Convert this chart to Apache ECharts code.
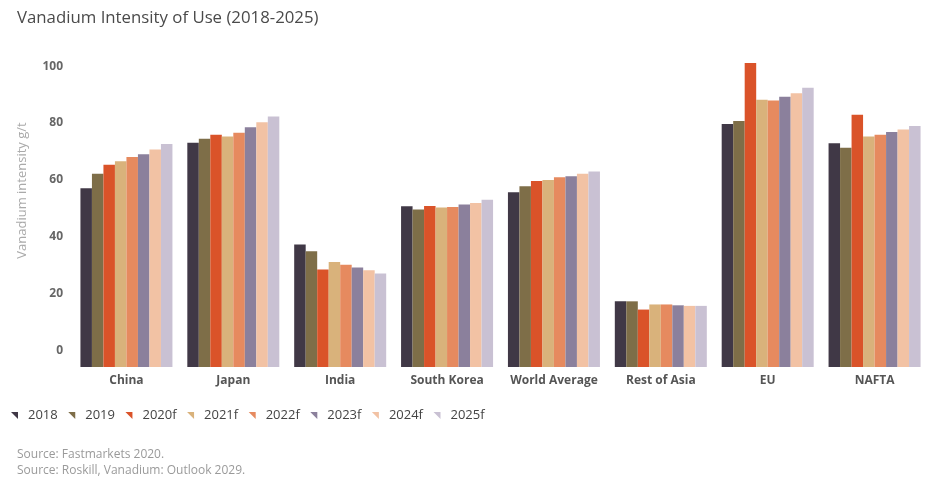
<!DOCTYPE html>
<html>
<head>
<meta charset="utf-8">
<script src="https://cdn.jsdelivr.net/npm/echarts@6/dist/echarts.min.js"></script>
<style>html,body{margin:0;padding:0;background:#fff}#c{width:928px;height:478px}</style>
</head>
<body>
<div id="c"></div>
<script>
var categories = ['China', 'Japan', 'India', 'South Korea', 'World Average', 'Rest of Asia', 'EU', 'NAFTA'];
var seriesNames = ['2018', '2019', '2020f', '2021f', '2022f', '2023f', '2024f', '2025f'];
var colors = ['#403846', '#7e6e48', '#da5329', '#d9b27b', '#e68a5f', '#8b809c', '#f2c2a4', '#c9c1d3'];
var v2018  = [57.1, 73.1, 37.3, 50.7, 55.7, 17.3, 79.7, 72.9];
var v2019  = [62.2, 74.5, 34.9, 49.6, 57.8, 17.3, 80.7, 71.3];
var v2020f = [65.3, 75.9, 28.5, 50.8, 59.6, 14.4, 101.1, 82.9];
var v2021f = [66.6, 75.3, 31.1, 50.3, 60.0, 16.2, 88.2, 75.3];
var v2022f = [68.1, 76.6, 30.2, 50.5, 60.9, 16.2, 87.9, 75.9];
var v2023f = [69.0, 78.5, 29.2, 51.4, 61.3, 15.9, 89.3, 76.9];
var v2024f = [70.7, 80.3, 28.2, 51.9, 62.2, 15.7, 90.5, 77.7];
var v2025f = [72.6, 82.3, 27.1, 53.0, 63.0, 15.7, 92.4, 79.0];
var yTicks = [0, 20, 40, 60, 80, 100];
var allValues = [v2018, v2019, v2020f, v2021f, v2022f, v2023f, v2024f, v2025f];

var chart = echarts.init(document.getElementById('c'));
var FONT = '"Open Sans", "DejaVu Sans", sans-serif';
var series = seriesNames.map(function (n, i) {
  return {
    name: n, type: 'bar', data: allValues[i],
    barWidth: 11.5, barGap: 0,
    itemStyle: { color: colors[i] },
    emphasis: { disabled: true }
  };
});
chart.setOption({
  animation: false,
  textStyle: { fontFamily: FONT },
  title: [
    { text: 'Vanadium Intensity of Use (2018-2025)', left: 12, top: 5,
      textStyle: { fontSize: 16.8, fontWeight: 'normal', color: '#4a4a4a', fontFamily: FONT } },
    { text: 'Source: Fastmarkets 2020.', left: 12, top: 444,
      textStyle: { fontSize: 12, fontWeight: 'normal', color: '#9a9a9a', fontFamily: FONT } },
    { text: 'Source: Roskill, Vanadium: Outlook 2029.', left: 12, top: 460,
      textStyle: { fontSize: 12, fontWeight: 'normal', color: '#9a9a9a', fontFamily: FONT } }
  ],
  legend: {
    data: seriesNames, left: 6, top: 404,
    icon: 'path://M0,0 L10,0 L10,10 Z',
    itemWidth: 7, itemHeight: 8, itemGap: 10.5,
    textStyle: { fontSize: 13, color: '#444', padding: [0, 0, 0, 5], fontFamily: FONT }
  },
  grid: { left: 73, top: 52, width: 862, height: 315, containLabel: false },
  xAxis: {
    type: 'category', data: categories,
    axisLine: { show: false }, axisTick: { show: false },
    axisLabel: { interval: 0, margin: 8, fontSize: 12, fontWeight: 'bold', color: '#555', fontFamily: FONT }
  },
  yAxis: {
    type: 'value', min: -5.8, max: 105, startValue: -5.8,
    name: 'Vanadium intensity g/t', nameLocation: 'middle', nameGap: 44,
    nameTextStyle: { fontSize: 13, color: '#aaaaaa', padding: [0, 0, 0, 38], fontFamily: FONT },
    splitLine: { show: false }, axisLine: { show: false }, axisTick: { show: false },
    axisLabel: { customValues: yTicks, margin: 10, fontSize: 12, fontWeight: 'bold', color: '#666', fontFamily: FONT }
  },
  series: series
});
</script>
</body>
</html>
